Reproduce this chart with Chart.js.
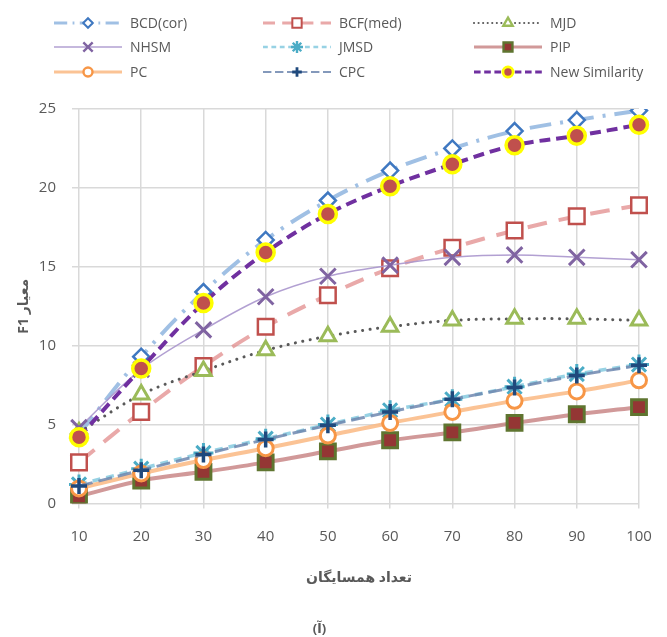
<!DOCTYPE html>
<html>
<head>
<meta charset="utf-8">
<script src="https://cdn.jsdelivr.net/npm/chart.js"></script>
<style>
    html, body { margin: 0; padding: 0; background: #ffffff; }
    #f1Chart { display: block; }
</style>
</head>
<body>
<canvas id="f1Chart" width="667" height="637"></canvas>
<script>
const neighbours = ['10', '20', '30', '40', '50', '60', '70', '80', '90', '100']
const yTicks = [0, 5, 10, 15, 20, 25]

const seriesNames = ['BCD(cor)', 'BCF(med)', 'MJD', 'NHSM', 'JMSD', 'PIP', 'PC', 'CPC', 'New Similarity']

const bcdCor = [4.4, 9.3, 13.4, 16.7, 19.2, 21.1, 22.5, 23.6, 24.3, 24.9]
const bcfMed = [2.6, 5.8, 8.7, 11.2, 13.2, 14.9, 16.2, 17.3, 18.2, 18.9]
const mjd = [4.5, 6.9, 8.4, 9.7, 10.6, 11.2, 11.6, 11.7, 11.7, 11.6]
const nhsm = [4.8, 8.5, 11.0, 13.1, 14.4, 15.1, 15.6, 15.75, 15.6, 15.45]
const jmsd = [1.2, 2.2, 3.2, 4.1, 5.0, 5.9, 6.6, 7.4, 8.2, 8.8]
const pip = [0.45, 1.45, 2.0, 2.6, 3.3, 4.0, 4.5, 5.1, 5.65, 6.1]
const pc = [0.95, 1.9, 2.75, 3.5, 4.3, 5.1, 5.8, 6.5, 7.1, 7.8]
const cpc = [1.1, 2.1, 3.1, 4.05, 4.95, 5.8, 6.6, 7.35, 8.1, 8.75]
const newSimilarity = [4.2, 8.55, 12.7, 15.9, 18.35, 20.1, 21.5, 22.7, 23.3, 24.0]

const seriesValues = [bcdCor, bcfMed, mjd, nhsm, jmsd, pip, pc, cpc, newSimilarity]

const xTitle = 'تعداد همسایگان'
const yTitle = 'F1 معیار'
const caption = '(آ)'

const textColor = '#595959'
const gridColor = '#d9d9d9'
const fontFamily = '"Open Sans", "DejaVu Sans", sans-serif'

// line + marker look for each series, same order as seriesNames
const styles = [
    {line: 'rgba(150,185,225,0.9)', dash: [22, 9, 3, 9], width: 4, point: 'rectRot', radius: 8, bg: '#ffffff', border: '#3f78c1', bw: 2.5},
    {line: 'rgba(225,140,140,0.75)', dash: [20, 12], width: 4, point: 'rect', radius: 11, bg: '#ffffff', border: '#c0504d', bw: 2.5},
    {line: '#595959', dash: [0.1, 7.5], width: 3, cap: 'round', point: 'triangle', radius: 9, bg: '#ffffff', border: '#9bbb59', bw: 3},
    {line: 'rgba(170,150,205,0.9)', dash: [], width: 1.5, point: 'crossRot', radius: 11, bg: '#8064a2', border: '#8064a2', bw: 3},
    {line: 'rgba(140,205,225,0.9)', dash: [8, 6], width: 3.5, point: 'star', radius: 10, bg: '#4bacc6', border: '#4bacc6', bw: 3},
    {line: 'rgba(190,110,110,0.7)', dash: [], width: 4, point: 'rect', radius: 10.5, bg: '#943634', border: '#5f7530', bw: 3},
    {line: 'rgba(250,185,130,0.85)', dash: [], width: 4, point: 'circle', radius: 7.5, bg: '#ffffff', border: '#f79646', bw: 3},
    {line: 'rgba(110,135,175,0.85)', dash: [14, 6], width: 3, point: 'cross', radius: 8, bg: '#1f497d', border: '#1f497d', bw: 3.5},
    {line: '#7030a0', dash: [11, 6], width: 4, point: 'circle', radius: 8.5, bg: '#c0504d', border: '#ffff00', bw: 3.5}
]

const datasets = seriesNames.map((name, i) => {
    const s = styles[i]
    return {
        label: name,
        data: seriesValues[i],
        order: seriesNames.length - 1 - i,
        borderColor: s.line,
        borderWidth: s.width,
        borderDash: s.dash,
        borderCapStyle: s.cap || 'butt',
        backgroundColor: 'transparent',
        fill: false,
        tension: 0.35,
        pointStyle: s.point,
        pointRadius: s.radius,
        pointBackgroundColor: s.bg,
        pointBorderColor: s.border,
        pointBorderWidth: s.bw
    }
})

// three-column legend at the top, like the original
const gridLegend = {
    id: 'gridLegend',
    afterDraw(chart) {
        const ctx = chart.ctx
        const colX = [54, 263, 474]
        const rowY = [23, 47, 72]
        chart.data.datasets.forEach((ds, i) => {
            const s = styles[i]
            const x = colX[i % 3]
            const y = rowY[Math.floor(i / 3)]
            ctx.save()
            ctx.strokeStyle = s.line
            ctx.lineWidth = Math.max(1.5, s.width * 0.7)
            ctx.lineCap = s.cap || 'butt'
            ctx.setLineDash(s.dash.map(d => d * 0.6))
            ctx.beginPath()
            ctx.moveTo(x, y)
            ctx.lineTo(x + 68, y)
            ctx.stroke()
            ctx.setLineDash([])
            ctx.fillStyle = s.bg
            ctx.strokeStyle = s.border
            ctx.lineWidth = s.bw * 0.8
            Chart.helpers.drawPoint(ctx, {pointStyle: s.point, radius: s.radius * 0.6, borderWidth: s.bw * 0.8, rotation: 0}, x + 34, y)
            ctx.fillStyle = textColor
            ctx.font = '14px ' + fontFamily
            ctx.textBaseline = 'middle'
            ctx.textAlign = 'left'
            ctx.fillText(ds.label, x + 76, y + 1)
            ctx.restore()
        })
    }
}

new Chart(document.getElementById('f1Chart'), {
    type: 'line',
    data: {labels: neighbours, datasets},
    options: {
        responsive: false,
        animation: false,
        devicePixelRatio: 1,
        layout: {padding: {top: 109, right: 28, left: 0, bottom: 0}},
        plugins: {
            legend: {display: false},
            tooltip: {enabled: false},
            title: {
                display: true,
                text: caption,
                position: 'bottom',
                color: textColor,
                font: {family: fontFamily, size: 13},
                padding: 0
            }
        },
        scales: {
            x: {
                type: 'category',
                offset: false,
                grid: {color: gridColor, lineWidth: 1.5, tickLength: 5, offset: false},
                border: {display: false},
                ticks: {color: textColor, font: {family: fontFamily, size: 15}, padding: 19, maxRotation: 0},
                title: {display: true, text: xTitle, color: textColor, font: {family: fontFamily, size: 14, weight: 'bold'}, padding: {top: 0, bottom: 35}},
                afterFit(scale) {
                    scale.height = 118
                    scale.paddingLeft = 0
                    scale.paddingRight = 0
                }
            },
            y: {
                min: 0,
                max: 25,
                grid: {color: gridColor, lineWidth: 1.5, tickLength: 7},
                border: {display: false},
                afterBuildTicks(scale) { scale.ticks = yTicks.map(v => ({value: v})) },
                ticks: {color: textColor, font: {family: fontFamily, size: 15}, padding: 16},
                title: {display: true, text: yTitle, color: textColor, font: {family: fontFamily, size: 14, weight: 'bold'}, padding: {top: 16, bottom: 0}},
                afterFit(scale) { scale.width = 79 }
            }
        }
    },
    plugins: [gridLegend]
})
</script>
</body>
</html>
